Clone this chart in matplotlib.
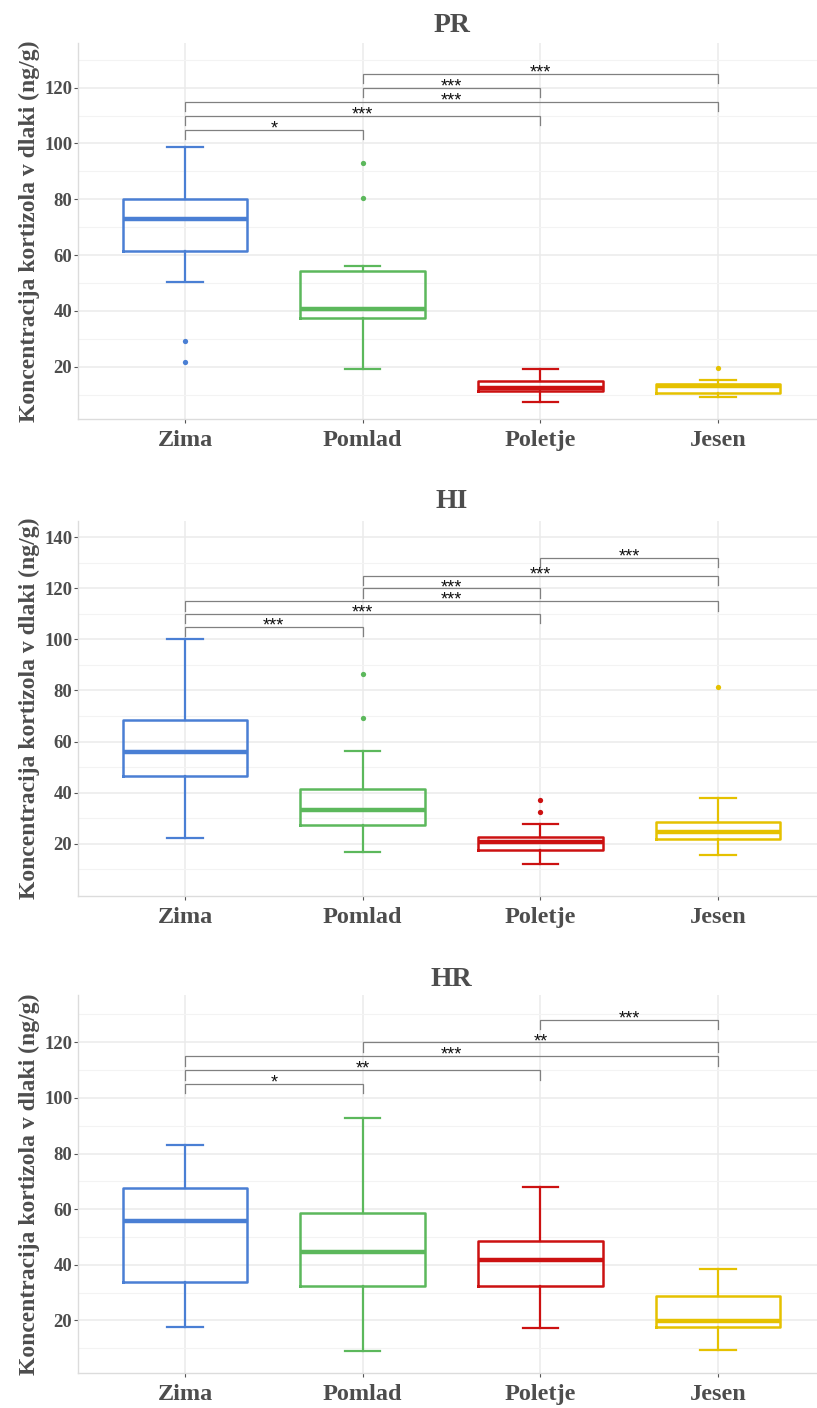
import matplotlib.pyplot as plt
import numpy as np

seasons = ['Zima', 'Pomlad', 'Poletje', 'Jesen']
colors = ['#4a7fd4', '#5cb85c', '#cc1111', '#e5c100']

# PR
pr_whislo = [50.5, 19.1, 7.3, 9.3]
pr_q1 = [61.6, 37.3, 11.2, 10.6]
pr_med = [72.8, 40.5, 12.4, 13.1]
pr_q3 = [80.1, 54.4, 14.8, 13.9]
pr_whishi = [98.7, 56.2, 19.0, 15.2]
pr_fliers = [[29.2, 21.6], [93.0, 80.6], [], [19.7]]
pr_sig = [(0, 1, 105, '*'), (0, 2, 110, '***'), (0, 3, 115, '***'),
          (1, 2, 120, '***'), (1, 3, 125, '***')]

# HI
hi_whislo = [22.3, 16.7, 12.0, 15.5]
hi_q1 = [46.4, 27.2, 17.6, 21.9]
hi_med = [55.9, 33.2, 20.7, 24.6]
hi_q3 = [68.5, 41.6, 22.8, 28.4]
hi_whishi = [100.2, 56.1, 27.6, 37.8]
hi_fliers = [[], [86.5, 69.1], [37.0, 32.3], [81.3]]
hi_sig = [(0, 1, 105, '***'), (0, 2, 110, '***'), (0, 3, 115, '***'),
          (1, 2, 120, '***'), (1, 3, 125, '***'), (2, 3, 132, '***')]

# HR
hr_whislo = [17.8, 8.9, 17.4, 9.5]
hr_q1 = [33.8, 32.4, 32.4, 17.5]
hr_med = [55.7, 44.7, 41.6, 19.8]
hr_q3 = [67.6, 58.7, 48.4, 28.8]
hr_whishi = [83.2, 92.8, 67.9, 38.4]
hr_fliers = [[], [], [], []]
hr_sig = [(0, 1, 105, '*'), (0, 2, 110, '**'), (0, 3, 115, '***'),
          (1, 3, 120, '**'), (2, 3, 128, '***')]

W, H = 817, 1408
fig = plt.figure(figsize=(W / 100, H / 100), dpi=100)
serif = 'Liberation Serif'
txtcol = '#4d4d4d'

panels = [
    ('PR', pr_whislo, pr_q1, pr_med, pr_q3, pr_whishi, pr_fliers, pr_sig,
     (43.3, 419.3), (1.15, 135.9), [20, 40, 60, 80, 100, 120], 25),
    ('HI', hi_whislo, hi_q1, hi_med, hi_q3, hi_whishi, hi_fliers, hi_sig,
     (520.7, 896), (-0.5, 146.5), [20, 40, 60, 80, 100, 120, 140], 502),
    ('HR', hr_whislo, hr_q1, hr_med, hr_q3, hr_whishi, hr_fliers, hr_sig,
     (995, 1373.3), (1.0, 137.0), [20, 40, 60, 80, 100, 120], 979),
]

x_left, x_right = 78.4, 824.6

for name, wlo, q1, med, q3, whi, fl, sig, (top, bot), ylim, yt, ty in panels:
    ax = fig.add_axes([x_left / W, 1 - bot / H, (x_right - x_left) / W, (bot - top) / H])

    for i in range(4):
        stats = [dict(whislo=wlo[i], q1=q1[i], med=med[i], q3=q3[i], whishi=whi[i], fliers=fl[i])]
        c = colors[i]
        ax.bxp(stats, positions=[i + 1], widths=0.7, capwidths=0.2, showfliers=True,
               manage_ticks=False,
               boxprops=dict(color=c, lw=1.8),
               medianprops=dict(color=c, lw=3.2),
               whiskerprops=dict(color=c, lw=1.6),
               capprops=dict(color=c, lw=1.6),
               flierprops=dict(marker='o', markersize=3.8, markerfacecolor=c,
                               markeredgecolor='none'))

    ax.set_xlim(0.4, 4.6)
    ax.set_ylim(*ylim)
    ax.set_yticks(yt)
    ax.set_yticks(np.arange(10, ylim[1], 20), minor=True)
    ax.set_xticks(range(1, 5))
    ax.grid(True, which='major', color='#ebebeb', lw=1.1, zorder=0)
    ax.grid(True, which='minor', axis='y', color='#f3f3f3', lw=0.8, zorder=0)
    ax.set_axisbelow(True)
    for s in ['top', 'right']:
        ax.spines[s].set_visible(False)
    for s in ['left', 'bottom']:
        ax.spines[s].set_color('#dcdcdc')
        ax.spines[s].set_linewidth(1.0)

    ax.tick_params(axis='both', which='major', color='#555555', length=3, width=0.8)
    ax.tick_params(axis='y', which='minor', length=0)
    ax.tick_params(axis='y', pad=1.5)
    ax.tick_params(axis='x', pad=5)
    ax.set_xticklabels(seasons, fontfamily=serif, fontweight='bold', fontsize=17.5, color=txtcol)
    ax.set_yticklabels([str(v) for v in yt], fontfamily=serif, fontweight='bold', fontsize=13.5, color=txtcol)
    ax.set_ylabel('Koncentracija kortizola v dlaki (ng/g)', fontfamily=serif,
                  fontweight='bold', fontsize=17, color=txtcol, labelpad=3)

    tip = 0.025 * (ylim[1] - ylim[0])
    for a, b, y, lab in sig:
        xa, xb = a + 1, b + 1
        ax.plot([xa, xa, xb, xb], [y - tip, y, y, y - tip], color='#808080', lw=0.9,
                solid_joinstyle='miter', zorder=3)
        ax.annotate(lab, xy=((xa + xb) / 2, y), xytext=(0, -2.7), textcoords='offset points',
                    ha='center', va='baseline', fontsize=13, fontfamily='Liberation Sans',
                    color='#111111', zorder=4)

    fig.text(451.5 / W, 1 - ty / H, name, ha='center', va='center', fontfamily=serif,
             fontweight='bold', fontsize=20, color=txtcol)

fig.savefig('out.png', dpi=100)
